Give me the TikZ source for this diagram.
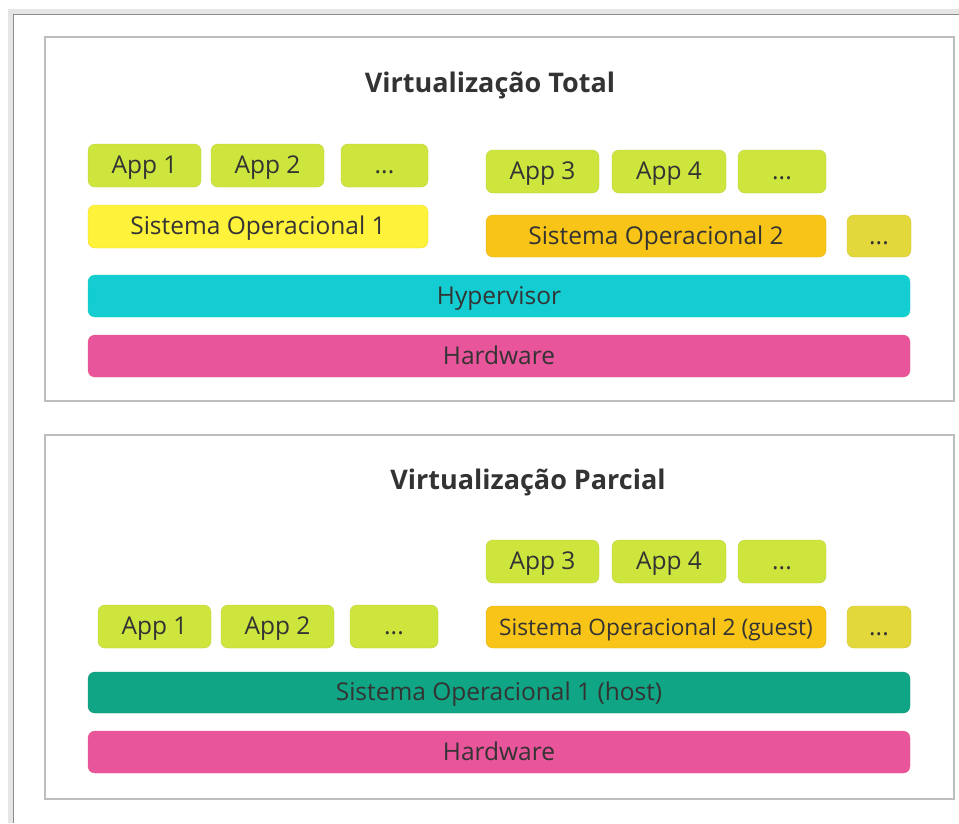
\documentclass[tikz,border=0pt]{standalone}
\usepackage{fontspec}
\setmainfont{Open Sans}
\usepackage{tikz}
\definecolor{txt}{HTML}{333333}
\definecolor{appgreen}{HTML}{CEE53E}
\definecolor{osyellow}{HTML}{FFF23A}
\definecolor{osorange}{HTML}{F7C417}
\definecolor{dotsolive}{HTML}{E3D83B}
\definecolor{hypcyan}{HTML}{13CDD3}
\definecolor{hwpink}{HTML}{E8559A}
\definecolor{hostgreen}{HTML}{10A584}
\definecolor{framegray}{HTML}{BDBDBD}

\begin{document}
\begin{tikzpicture}[x=1pt, y=-1pt,
        layer/.style={rounded corners=7pt, inner sep=0pt, text=txt,
            font=\fontsize{24.5}{28}\selectfont, text height=20pt, text depth=4pt,
            minimum height=43pt},
        app/.style={layer, fill=appgreen, draw=appgreen!92!black, line width=0.4pt, minimum width=113pt},
        panel/.style={draw=framegray, line width=1.5pt, fill=white, minimum width=909pt, minimum height=364pt},
        title/.style={anchor=base, text=txt, font=\bfseries\fontsize{27}{32}\selectfont}]
        \useasboundingbox (0,0) rectangle (959,823);

        % window frame
        \draw[line width=5pt, black!10] (10.5,823) -- (10.5,11.5) -- (959,11.5);
        \draw[line width=1.5pt, black!45] (13.5,823) -- (13.5,14.5) -- (959,14.5);

        % Virtualizacao Total
        \node[panel] at (499.5, 219)   (total) {};
        \node[title] at (490, 92)      (ttotal) {Virtualização Total};

        \node[app] at (144.5, 165.5)   (tapp1) {App 1};
        \node[app] at (267.5, 165.5)   (tapp2) {App 2};
        \node[app, minimum width=87pt] at (384.5, 165.5) (tdots1) {...};
        \node[layer, fill=osyellow, draw=osyellow!92!black, minimum width=340pt] at (258, 226.5) (tos1) {Sistema Operacional 1};

        \node[app] at (542.5, 171.5)   (tapp3) {App 3};
        \node[app, minimum width=114pt] at (669, 171.5) (tapp4) {App 4};
        \node[app, minimum width=88pt] at (782, 171.5) (tdots2) {...};
        \node[layer, fill=osorange, draw=osorange!92!black, minimum width=340pt, minimum height=42pt] at (656, 236) (tos2) {Sistema Operacional 2};
        \node[layer, fill=dotsolive, draw=dotsolive!92!black, minimum width=64pt, minimum height=42pt] at (879, 236) (tdots3) {...};

        \node[layer, fill=hypcyan, draw=hypcyan!85!green, minimum width=822pt, minimum height=42pt] at (499, 296) (thyp) {Hypervisor};
        \node[layer, fill=hwpink, draw=hwpink!85!orange, minimum width=822pt, minimum height=42pt] at (499, 356) (thw) {Hardware};

        % Virtualizacao Parcial
        \node[panel] at (499.5, 617)   (parcial) {};
        \node[title] at (528, 489)     (tparcial) {Virtualização Parcial};

        \node[app] at (542.5, 561.5)   (papp3) {App 3};
        \node[app, minimum width=114pt] at (669, 561.5) (papp4) {App 4};
        \node[app, minimum width=88pt] at (782, 561.5) (pdots2) {...};

        \node[app] at (154.5, 626.5)   (papp1) {App 1};
        \node[app] at (277.5, 626.5)   (papp2) {App 2};
        \node[app, minimum width=88pt] at (394, 626.5) (pdots1) {...};
        \node[layer, fill=osorange, draw=osorange!92!black, minimum width=340pt, minimum height=42pt,
            font=\fontsize{22.7}{26}\selectfont] at (656, 627) (pguest) {Sistema Operacional 2 (guest)};
        \node[layer, fill=dotsolive, draw=dotsolive!92!black, minimum width=64pt, minimum height=42pt] at (879, 627) (pdots3) {...};

        \node[layer, fill=hostgreen, draw=hostgreen!92!black, minimum width=822pt, minimum height=41pt] at (499, 692.5) (phost) {Sistema Operacional 1 (host)};
        \node[layer, fill=hwpink, draw=hwpink!85!orange, minimum width=822pt, minimum height=42pt] at (499, 752) (phw) {Hardware};
    \end{tikzpicture}
\end{document}
